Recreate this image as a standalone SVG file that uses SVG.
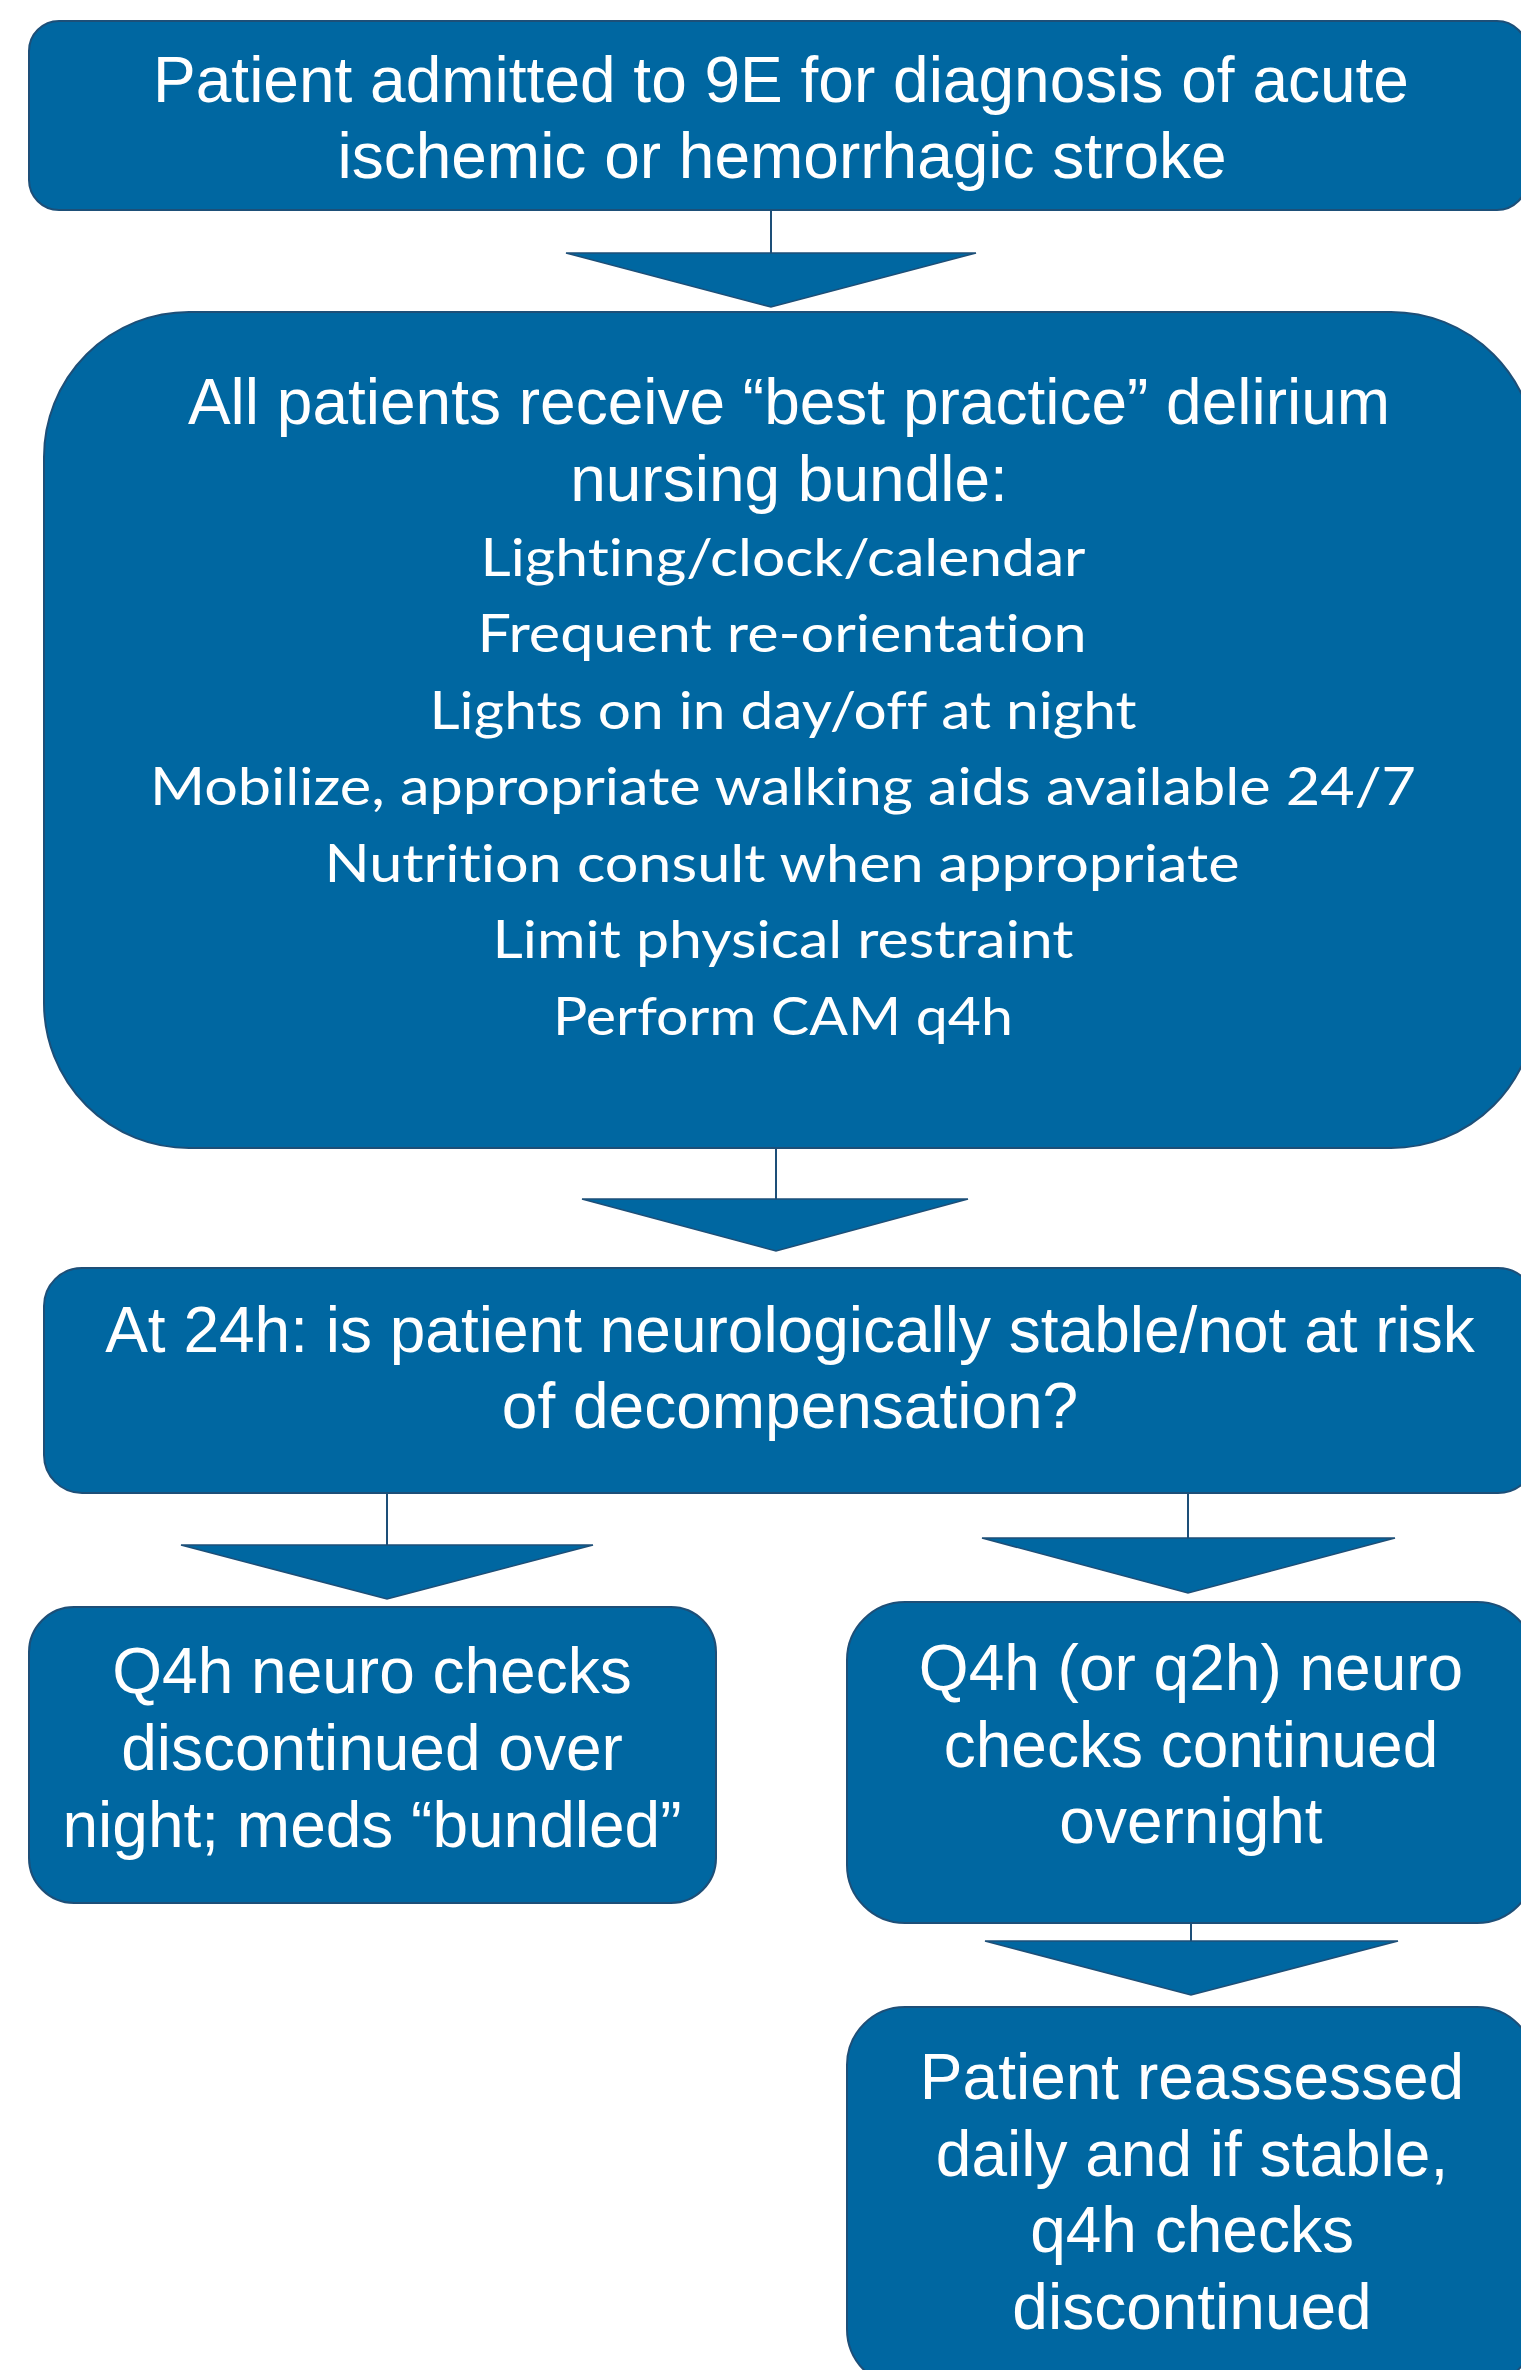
<svg xmlns="http://www.w3.org/2000/svg" width="1521" height="2370" viewBox="0 0 1521 2370">
  <style>
    .box { fill: #0067A1; stroke: #1D4F78; stroke-width: 2; }
    .head { fill: #0067A1; stroke: #1D4F78; stroke-width: 1.5; stroke-linejoin: miter; }
    .link { stroke: #1D4F78; stroke-width: 2; fill: none; }
    .t { font-family: "Liberation Sans", Arial, sans-serif; font-size: 64px; fill: #FFFFFF; text-anchor: middle; }
    .c { font-family: Lato, "Open Sans", sans-serif; font-size: 52px; fill: #FFFFFF; text-anchor: middle; font-variant-ligatures: none; font-feature-settings: "liga" 0, "dlig" 0; }
  </style>
  <rect width="1521" height="2370" fill="#FFFFFF"/>

  <!-- flow connectors: stem plus wide block arrowhead -->
  <g id="connectors">
    <line class="link" x1="771" y1="210" x2="771" y2="254"/>
    <polygon class="head" points="566,253 976,253 771,307"/>
    <line class="link" x1="776" y1="1148" x2="776" y2="1200"/>
    <polygon class="head" points="582,1199 968,1199 776,1251"/>
    <line class="link" x1="387" y1="1493" x2="387" y2="1546"/>
    <polygon class="head" points="181,1545 593,1545 387,1599"/>
    <line class="link" x1="1188" y1="1488" x2="1188" y2="1539"/>
    <polygon class="head" points="982,1538 1395,1538 1188,1593"/>
    <line class="link" x1="1191" y1="1923" x2="1191" y2="1942"/>
    <polygon class="head" points="985,1941 1398,1941 1191,1995"/>
  </g>

  <g id="admission">
    <rect class="box" x="29" y="21" width="1498" height="189" rx="30" ry="30"/>
    <text class="t" x="781" y="102">Patient admitted to 9E for diagnosis of acute</text>
    <text class="t" x="782" y="178">ischemic or hemorrhagic stroke</text>
  </g>

  <g id="bundle">
    <rect class="box" x="44" y="312" width="1492" height="836" rx="145" ry="145"/>
    <text class="t" x="789" y="424">All patients receive “best practice” delirium</text>
    <text class="t" x="789" y="501">nursing bundle:</text>
    <text class="c" x="783" y="576" textLength="605" lengthAdjust="spacingAndGlyphs">Lighting/clock/calendar</text>
    <text class="c" x="782" y="652" textLength="609" lengthAdjust="spacingAndGlyphs">Frequent re-orientation</text>
    <text class="c" x="783" y="729" textLength="707" lengthAdjust="spacingAndGlyphs">Lights on in day/off at night</text>
    <text class="c" x="783" y="805" textLength="1266" lengthAdjust="spacingAndGlyphs">Mobilize, appropriate walking aids available 24/7</text>
    <text class="c" x="782" y="882" textLength="915" lengthAdjust="spacingAndGlyphs">Nutrition consult when appropriate</text>
    <text class="c" x="783" y="958" textLength="581" lengthAdjust="spacingAndGlyphs">Limit physical restraint</text>
    <text class="c" x="783" y="1035" textLength="460" lengthAdjust="spacingAndGlyphs">Perform CAM q4h</text>
  </g>

  <g id="stability-check">
    <rect class="box" x="44" y="1268" width="1492" height="225" rx="38" ry="38"/>
    <text class="t" x="790" y="1352">At 24h: is patient neurologically stable/not at risk</text>
    <text class="t" x="790" y="1428">of decompensation?</text>
  </g>

  <g id="stable">
    <rect class="box" x="29" y="1607" width="687" height="296" rx="45" ry="45"/>
    <text class="t" x="372" y="1693">Q4h neuro checks</text>
    <text class="t" x="372" y="1770">discontinued over</text>
    <text class="t" x="372" y="1847">night; meds “bundled”</text>
  </g>

  <g id="unstable">
    <rect class="box" x="847" y="1602" width="688" height="321" rx="58" ry="58"/>
    <text class="t" x="1191" y="1690">Q4h (or q2h) neuro</text>
    <text class="t" x="1191" y="1767">checks continued</text>
    <text class="t" x="1191" y="1843">overnight</text>
  </g>

  <g id="reassess">
    <rect class="box" x="847" y="2007" width="688" height="380" rx="58" ry="58"/>
    <text class="t" x="1192" y="2099">Patient reassessed</text>
    <text class="t" x="1192" y="2176">daily and if stable,</text>
    <text class="t" x="1192" y="2252">q4h checks</text>
    <text class="t" x="1192" y="2329">discontinued</text>
  </g>
</svg>
